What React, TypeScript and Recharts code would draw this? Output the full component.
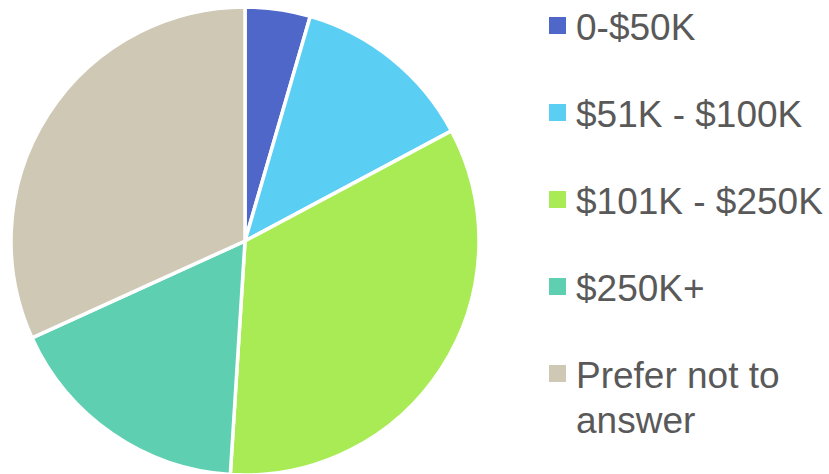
import { PieChart, Pie, Cell, Legend } from 'recharts'

const categories = ['0-$50K', '$51K - $100K', '$101K - $250K', '$250K+', 'Prefer not to answer']
const shares = [4.5, 12.7, 33.8, 17.2, 31.8]
const colors = ['#4F67C9', '#5BCEF4', '#A9EB55', '#5ECFB0', '#CEC8B5']

const data = categories.map((name, i) => ({ name, value: shares[i] }))

function IncomeLegend() {
  return (
    <div style={{ fontFamily: '"Liberation Sans", Arial, sans-serif', fontSize: 37, lineHeight: '45px', color: '#595959' }}>
      {categories.map((name, i) => (
        <div key={name} style={{ position: 'relative', paddingLeft: 27, marginBottom: 42, width: 250 }}>
          <span
            style={{
              position: 'absolute',
              left: 0,
              top: 12,
              width: 17,
              height: 17,
              background: colors[i],
            }}
          />
          {name}
        </div>
      ))}
    </div>
  )
}

export default function App() {
  return (
    <div style={{ position: 'absolute', left: 0, top: 0, width: 829, height: 474, background: '#fff' }}>
      <PieChart width={829} height={474} margin={{ top: 0, right: 0, bottom: 0, left: 0 }}>
        <Pie
          data={data}
          dataKey="value"
          nameKey="name"
          cx={245}
          cy={241}
          outerRadius={234}
          startAngle={90}
          endAngle={-270}
          stroke="#ffffff"
          strokeWidth={3.5}
          isAnimationActive={false}
        >
          {data.map((d, i) => (
            <Cell key={d.name} fill={colors[i]} />
          ))}
        </Pie>
        <Legend
          content={() => <IncomeLegend />}
          wrapperStyle={{ position: 'absolute', left: 549, top: 5, width: 280 }}
        />
      </PieChart>
    </div>
  )
}
